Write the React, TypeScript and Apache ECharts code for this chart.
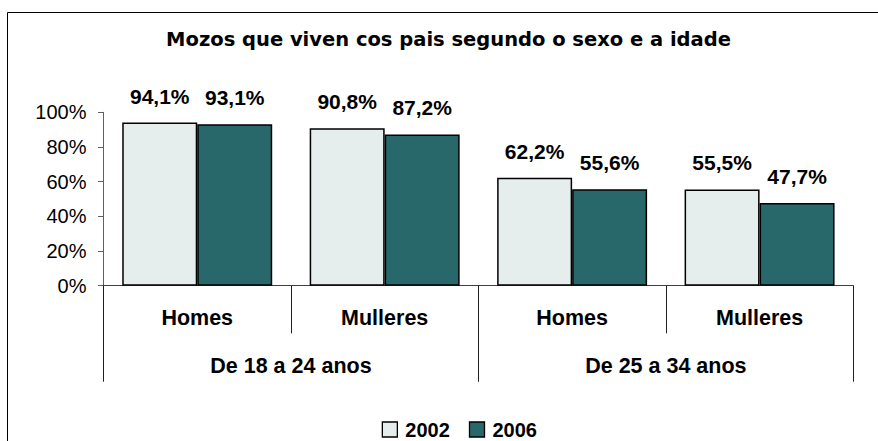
import React, { useEffect, useRef } from 'react';
import * as echarts from 'echarts';

const titleText = 'Mozos que viven cos pais segundo o sexo e a idade';
const categories = ['Homes', 'Mulleres', 'Homes', 'Mulleres'];
const groups = ['De 18 a 24 anos', 'De 25 a 34 anos'];
const seriesNames = ['2002', '2006'];
const values2002 = [94.1, 90.8, 62.2, 55.5];
const values2006 = [93.1, 87.2, 55.6, 47.7];
const yMin = 0;
const yMax = 100;
const yStep = 20;

const FONT = '"Liberation Sans", Arial, sans-serif';
const fmt = (v: number) => v.toFixed(1).replace('.', ',') + '%';

export default function App() {
  const ref = useRef<HTMLDivElement>(null);
  useEffect(() => {
    document.body.style.margin = '0';
    const chart = echarts.init(ref.current!, null, { renderer: 'svg' });
    const labelStyle = {
      show: true,
      position: 'top',
      distance: 16,
      formatter: (p: any) => fmt(p.value),
      fontFamily: FONT,
      fontWeight: 'bold',
      fontSize: 21,
      color: '#000',
    };
    chart.setOption({
      animation: false,
      backgroundColor: '#fff',
      grid: { left: 103.5, right: 24.7, top: 112.3, bottom: 155.3, containLabel: false },
      graphic: [
        {
          type: 'rect',
          z: -10,
          shape: { x: 7.5, y: 12.5, width: 900, height: 500 },
          style: { fill: '#fff', stroke: '#000', lineWidth: 1 },
        },
        {
          type: 'text',
          x: 448.5,
          y: 39.8,
          style: {
            text: titleText,
            textAlign: 'center',
            textVerticalAlign: 'middle',
            fontFamily: '"DejaVu Sans", sans-serif',
            fontWeight: 'bold',
            fontSize: 19.5,
            fill: '#000',
          },
        },
      ],
      legend: {
        data: seriesNames,
        left: 381.7,
        top: 419.5,
        padding: 0,
        icon: 'rect',
        itemWidth: 15,
        itemHeight: 15,
        itemGap: 19,
        itemStyle: { borderColor: '#000', borderWidth: 1.3 },
        textStyle: {
          fontFamily: FONT,
          fontWeight: 'bold',
          fontSize: 20,
          color: '#000',
          padding: [0, 0, 0, 3],
        },
      },
      xAxis: [
        {
          type: 'category',
          data: categories,
          position: 'bottom',
          axisLine: { show: true, lineStyle: { color: '#404040', width: 1 } },
          axisTick: { show: true, interval: 0, length: 47.6, lineStyle: { color: '#202020', width: 1 } },
          axisLabel: {
            interval: 0,
            margin: 20.8,
            fontFamily: FONT,
            fontWeight: 'bold',
            fontSize: 21.5,
            color: '#000',
          },
        },
        {
          type: 'category',
          data: groups,
          position: 'bottom',
          offset: 0,
          axisLine: { show: false },
          axisTick: { show: true, interval: 0, length: 96, lineStyle: { color: '#202020', width: 1 } },
          axisLabel: {
            interval: 0,
            margin: 68.8,
            fontFamily: FONT,
            fontWeight: 'bold',
            fontSize: 21.5,
            color: '#000',
          },
        },
      ],
      yAxis: {
        type: 'value',
        min: yMin,
        max: yMax,
        interval: yStep,
        axisLine: { show: true, lineStyle: { color: '#606060', width: 1 } },
        axisTick: { show: true, length: 5.5, lineStyle: { color: '#606060' } },
        splitLine: { show: false },
        axisLabel: {
          formatter: '{value}%',
          margin: 17,
          fontFamily: FONT,
          fontSize: 20,
          color: '#000',
        },
      },
      series: [
        {
          name: seriesNames[0],
          type: 'bar',
          xAxisIndex: 0,
          data: values2002,
          barGap: '0%',
          barCategoryGap: '20%',
          itemStyle: { color: '#E6EEED', borderColor: '#000', borderWidth: 1.5 },
          label: labelStyle,
        },
        {
          name: seriesNames[1],
          type: 'bar',
          xAxisIndex: 0,
          data: values2006,
          barGap: '0%',
          barCategoryGap: '20%',
          itemStyle: { color: '#28686B', borderColor: '#000', borderWidth: 1.5 },
          label: labelStyle,
        },
      ],
    });
    return () => chart.dispose();
  }, []);
  return <div ref={ref} style={{ width: 878, height: 441 }} />;
}
